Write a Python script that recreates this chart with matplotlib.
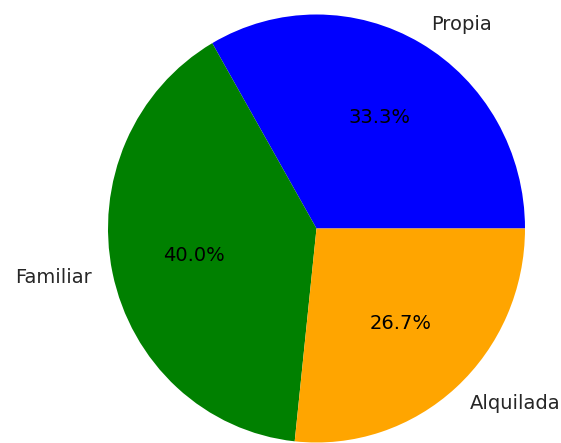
import matplotlib
matplotlib.use("Agg")
import matplotlib.pyplot as plt

labels = ["Propia", "Familiar", "Alquilada"]
values = [5, 6, 4]
colors = ["blue", "green", "orange"]

fig = plt.figure(figsize=(5.61, 4.43), dpi=100)
# pie is slightly stretched vertically in the reference
ax = fig.add_axes([108 / 561, 0.5 / 443, 417 / 561, 428 / 443])
wedges, texts, autotexts = ax.pie(values, labels=labels, colors=colors,
                                  autopct="%1.1f%%",
                                  textprops={"fontsize": 14, "color": "#262626"})
for t in autotexts:
    t.set_color("black")
ax.set_xlim(-1, 1)
ax.set_ylim(-1, 1)
ax.set_aspect("auto")
fig.savefig("out.png", dpi=100)
